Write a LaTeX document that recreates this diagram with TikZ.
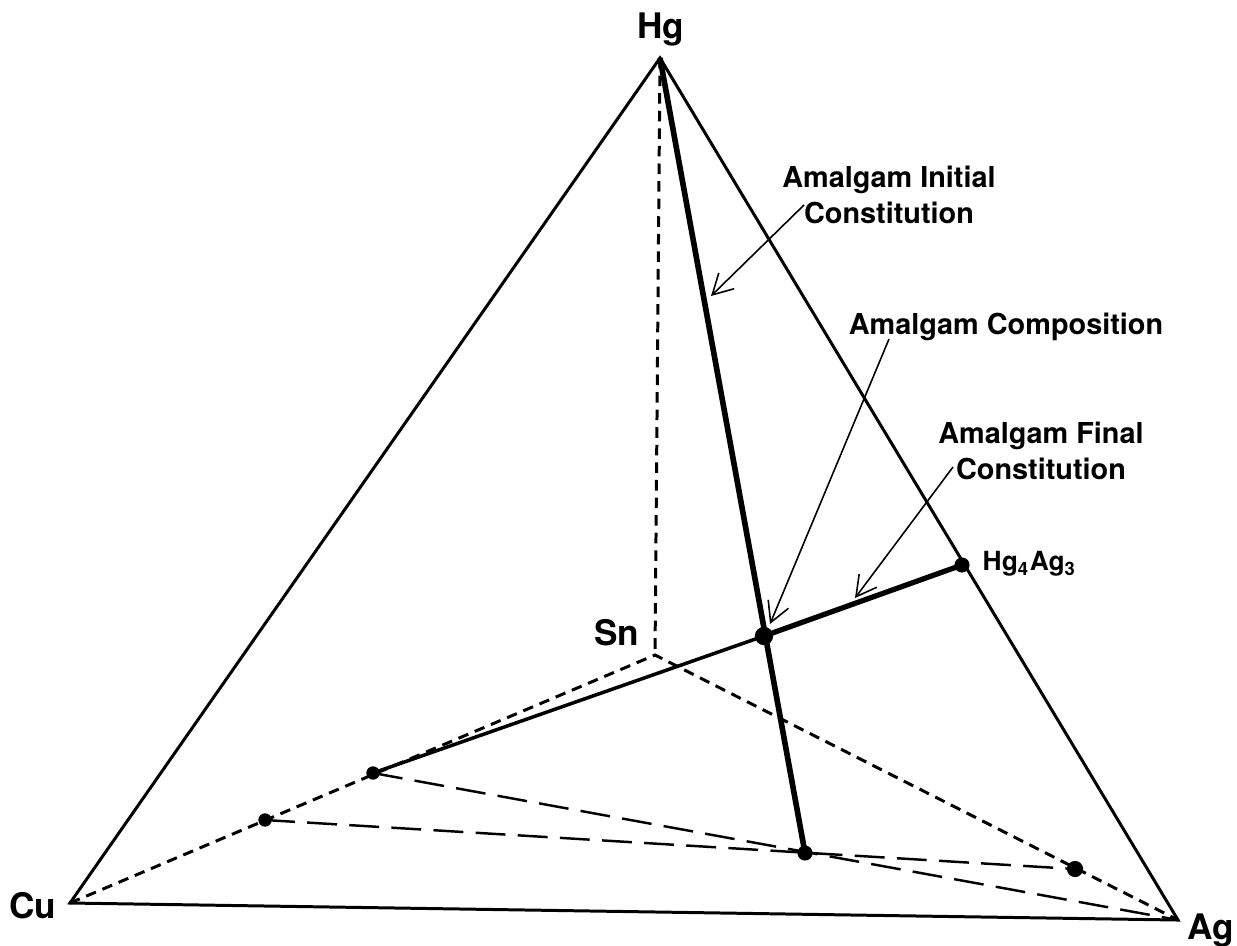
\documentclass[tikz,border=0pt]{standalone}
\usepackage{fontspec}
\setmainfont{TeX Gyre Heros}
\usetikzlibrary{arrows.meta}

\begin{document}
\begin{tikzpicture}[
  x=0.01cm,y=-0.01cm,
  edge/.style={line width=0.85pt,line cap=round},
  hidden/.style={line width=0.85pt,dash pattern=on 3pt off 2pt},
  tie/.style={line width=0.7pt,dash pattern=on 8.5pt off 3.5pt},
  dot/.style={circle,fill,inner sep=0pt,minimum size=#1},
  vlabel/.style={font=\bfseries\fontsize{10}{12}\selectfont,inner sep=0pt},
  note/.style={font=\bfseries\fontsize{8.2}{10}\selectfont,align=center,inner sep=0pt},
  arr/.style={-{Straight Barb[length=2mm,width=2.2mm]},line width=0.45pt}
]
  \useasboundingbox (0,0) rectangle (1237,945);

  % corners of the tetrahedron
  \coordinate (hg) at (660,58);
  \coordinate (cu) at (70,903);
  \coordinate (ag) at (1178,920);
  \coordinate (sn) at (655,655);

  \node[vlabel] (hglbl) at (661,30) {Hg};
  \node[vlabel] (culbl) at (33,906) {Cu};
  \node[vlabel] (aglbl) at (1211,930) {Ag};
  \node[vlabel] (snlbl) at (617,633) {Sn};

  % points
  \node[dot=4.3pt] (hgag) at (962,565) {};
  \node[dot=5.2pt] (comp) at (764,636) {};
  \node[dot=4.3pt] (base) at (805,853) {};
  \node[dot=3.8pt] (cs1) at (373,773) {};
  \node[dot=3.8pt] (cs2) at (265,820) {};
  \node[dot=4.6pt] (sa1) at (1075,869) {};
  \node[font=\bfseries\fontsize{7.5}{9}\selectfont,anchor=west,inner sep=0pt] (hgaglbl) at (982,564) {Hg$_\mathbf{4}$Ag$_\mathbf{3}$};

  % visible edges
  \draw[edge] (cu) -- (hg) -- (ag) -- cycle;
  % hidden edges
  \draw[hidden] (hg) -- (sn);
  \draw[hidden] (cu) -- (sn) -- (ag);

  % tie lines in the base
  \draw[tie] (cs1.center) -- (ag);
  \draw[tie] (cs2.center) -- (sa1.center);

  % composition lines
  \draw[line width=1.6pt] (hg) -- (base.center);
  \draw[line width=1.5pt] (hgag.center) -- (comp.center);
  \draw[line width=1pt] (comp.center) -- (cs1.center);

  % notes and arrows
  \node[note] (initial) at (889,195) {Amalgam Initial\\Constitution};
  \node[note] (composition) at (1006,327) {Amalgam Composition};
  \node[note] (final) at (1041,451) {Amalgam Final\\Constitution};

  \coordinate (initialtip) at (711,296);
  \coordinate (comptip) at (770,624);
  \coordinate (finaltip) at (855,598);

  \draw[arr] (804,205) -- (initialtip);
  \draw[arr] (889,339) -- (comptip);
  \draw[arr] (953,467) -- (finaltip);
\end{tikzpicture}
\end{document}
